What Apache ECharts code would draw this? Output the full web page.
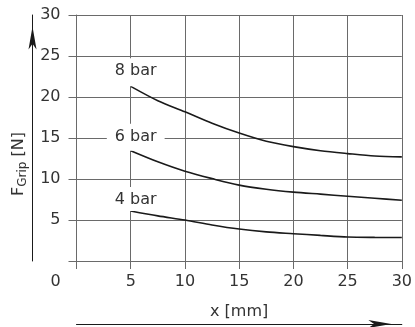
<!DOCTYPE html>
<html>
<head>
<meta charset="utf-8">
<script src="https://cdn.jsdelivr.net/npm/echarts@6/dist/echarts.min.js"></script>
<style>
html,body{margin:0;padding:0;background:#fff;}
#chart{width:415px;height:327px;}
</style>
</head>
<body>
<div id="chart"></div>
<script>
// Data
const xValues = [5, 7.5, 10, 12.5, 15, 17.5, 20, 22.5, 25, 27.5, 30];
const bar8 = [21.3, 19.55, 18.2, 16.8, 15.6, 14.6, 13.95, 13.45, 13.1, 12.8, 12.7];
const bar6 = [13.45, 12.1, 10.95, 10.05, 9.25, 8.75, 8.4, 8.15, 7.9, 7.65, 7.4];
const bar4 = [6.1, 5.5, 5.0, 4.4, 3.9, 3.55, 3.33, 3.12, 2.93, 2.88, 2.87];
const seriesNames = ['8 bar', '6 bar', '4 bar'];
const seriesValues = [bar8, bar6, bar4];
const axisMin = 0, axisMax = 30, axisStep = 5;
const xTitle = 'x [mm]';
const yTitleMain = 'F', yTitleSub = 'Grip', yTitleUnit = ' [N]';

const FONT = 'DejaVu Sans';
const TXT = '#333';
const GRID = '#6a6a6a';
const CURVE = '#1a1a1a';
const labelBottomPad = [7, 6, 3];

const chart = echarts.init(document.getElementById('chart'));

const series = seriesValues.map((vals, si) => ({
  type: 'line',
  name: seriesNames[si],
  smooth: 0.3,
  showSymbol: true,
  symbol: 'circle',
  symbolSize: 0,
  lineStyle: { color: CURVE, width: 1.6 },
  itemStyle: { color: CURVE },
  xAxisIndex: 0,
  yAxisIndex: 0,
  z: 5,
  data: vals.map((v, i) => {
    const item = { value: [xValues[i], v] };
    if (i === 0) {
      item.label = {
        show: true,
        position: 'top',
        distance: 0,
        offset: [5, 0],
        formatter: seriesNames[si],
        fontFamily: FONT,
        fontSize: 16,
        lineHeight: 16,
        color: TXT,
        backgroundColor: '#fff',
        padding: [5, 8, labelBottomPad[si], 8]
      };
    }
    return item;
  }),
  animation: false
}));

const option = {
  animation: false,
  backgroundColor: '#fff',
  grid: { left: 75, right: 13, top: 15, bottom: 66, containLabel: false },
  xAxis: [
    {
      type: 'value', min: axisMin, max: axisMax, interval: axisStep,
      position: 'bottom',
      axisLine: { show: true, onZero: false, lineStyle: { color: GRID, width: 1 } },
      axisTick: { show: true, inside: false, length: 8, lineStyle: { color: GRID, width: 1 } },
      splitLine: { show: true, lineStyle: { color: GRID, width: 1 } },
      axisLabel: {
        margin: 13, fontFamily: FONT, fontSize: 16, color: TXT,
        formatter: v => v === 0 ? '{z|0}' : String(v),
        rich: { z: { fontFamily: FONT, fontSize: 16, color: TXT, padding: [0, 42, 0, 0] } }
      }
    },
    {
      type: 'value', min: axisMin, max: axisMax,
      position: 'bottom', offset: 63,
      axisLine: { show: true, onZero: false, symbol: ['none', 'arrow'], symbolSize: [6, 23], symbolOffset: [0, -10.5], lineStyle: { color: CURVE, width: 1 } },
      axisTick: { show: false }, axisLabel: { show: false }, splitLine: { show: false },
      name: xTitle, nameLocation: 'middle', nameGap: -20,
      nameTextStyle: { fontFamily: FONT, fontSize: 16, color: TXT }
    }
  ],
  yAxis: [
    {
      type: 'value', min: axisMin, max: axisMax, interval: axisStep,
      position: 'left',
      axisLine: { show: true, onZero: false, lineStyle: { color: GRID, width: 1 } },
      axisTick: { show: true, inside: false, length: 8, lineStyle: { color: GRID, width: 1 } },
      splitLine: { show: true, lineStyle: { color: GRID, width: 1 } },
      axisLabel: {
        margin: 16, fontFamily: FONT, fontSize: 16, color: TXT,
        formatter: v => v === 0 ? '' : String(v)
      }
    },
    {
      type: 'value', min: axisMin, max: axisMax,
      position: 'left', offset: 44,
      axisLine: { show: true, onZero: false, symbol: ['none', 'arrow'], symbolSize: [6, 23], symbolOffset: [0, -11.5], lineStyle: { color: CURVE, width: 1 } },
      axisTick: { show: false }, axisLabel: { show: false }, splitLine: { show: false },
      name: '{f|' + yTitleMain + '}{s|' + yTitleSub + '}{u|' + yTitleUnit + '}',
      nameLocation: 'middle', nameGap: 6, nameRotate: 90,
      nameTextStyle: {
        fontFamily: FONT, fontSize: 16, color: TXT, padding: [0, 52, 0, 0],
        rich: {
          f: { fontFamily: FONT, fontSize: 16, color: TXT, lineHeight: 16 },
          s: { fontFamily: FONT, fontSize: 12, color: TXT, lineHeight: 12, padding: [9, 0, 0, 0] },
          u: { fontFamily: FONT, fontSize: 16, color: TXT, lineHeight: 16 }
        }
      }
    }
  ],
  series: series
};

chart.setOption(option);
</script>
</body>
</html>
